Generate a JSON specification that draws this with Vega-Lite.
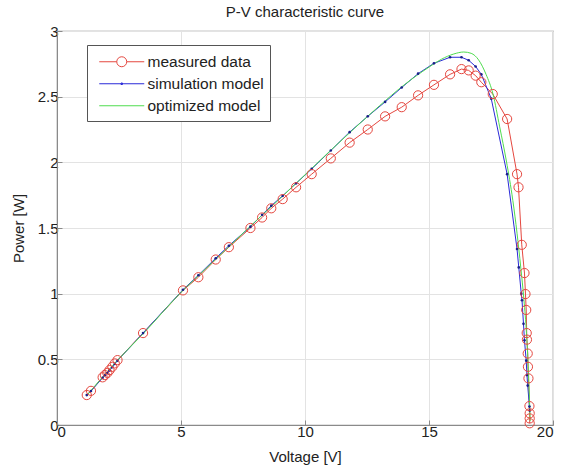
{
  "$schema": "https://vega.github.io/schema/vega-lite/v6.json",
  "autosize": {"type": "none"},
  "padding": {"left": 57, "top": 31, "right": 9, "bottom": 44},
  "width": 496,
  "height": 394,
  "title": {"text": "P-V characteristic curve", "fontSize": 15, "fontWeight": "normal", "font": "Liberation Sans", "color": "#222", "offset": 4},
  "config": {
    "view": {"stroke": "#8a8a8a", "strokeWidth": 1.2},
    "axis": {"labelFont": "Liberation Sans", "titleFont": "Liberation Sans", "labelFontSize": 15, "titleFontSize": 15, "titleFontWeight": "normal", "labelColor": "#222", "titleColor": "#222", "gridColor": "#e3e3e3", "domainColor": "#8a8a8a", "tickColor": "#8a8a8a", "tickSize": -5, "labelPadding": 4},
    "legend": {"labelFont": "Liberation Sans", "labelFontSize": 15.5, "labelColor": "#222"}
  },
  "datasets": {
    "measured": [
      {"V": 1.2, "P": 0.228}, {"V": 1.37, "P": 0.26}, {"V": 1.84, "P": 0.363}, {"V": 1.93, "P": 0.38},
      {"V": 2.03, "P": 0.397}, {"V": 2.12, "P": 0.418}, {"V": 2.23, "P": 0.443}, {"V": 2.33, "P": 0.469},
      {"V": 2.44, "P": 0.494}, {"V": 3.47, "P": 0.7}, {"V": 5.08, "P": 1.025}, {"V": 5.7, "P": 1.125},
      {"V": 6.4, "P": 1.26}, {"V": 6.93, "P": 1.354}, {"V": 7.8, "P": 1.5}, {"V": 8.27, "P": 1.58},
      {"V": 8.64, "P": 1.65}, {"V": 9.1, "P": 1.72}, {"V": 9.64, "P": 1.81}, {"V": 10.27, "P": 1.91},
      {"V": 11.04, "P": 2.03}, {"V": 11.8, "P": 2.15}, {"V": 12.53, "P": 2.25}, {"V": 13.23, "P": 2.35},
      {"V": 13.9, "P": 2.42}, {"V": 14.56, "P": 2.51}, {"V": 15.2, "P": 2.59}, {"V": 15.85, "P": 2.67},
      {"V": 16.31, "P": 2.71}, {"V": 16.6, "P": 2.7}, {"V": 16.88, "P": 2.66}, {"V": 17.11, "P": 2.61},
      {"V": 17.57, "P": 2.52}, {"V": 18.15, "P": 2.33}, {"V": 18.55, "P": 1.91}, {"V": 18.61, "P": 1.81},
      {"V": 18.74, "P": 1.372}, {"V": 18.85, "P": 1.157}, {"V": 18.89, "P": 0.997}, {"V": 18.92, "P": 0.876},
      {"V": 18.94, "P": 0.7}, {"V": 18.95, "P": 0.65}, {"V": 18.98, "P": 0.544}, {"V": 18.99, "P": 0.443},
      {"V": 19.01, "P": 0.355}, {"V": 19.05, "P": 0.144}, {"V": 19.06, "P": 0.089}, {"V": 19.06, "P": 0.05},
      {"V": 19.06, "P": 0.013}
    ],
    "simulation": [
      {"V": 1.2, "P": 0.228}, {"V": 1.37, "P": 0.258}, {"V": 1.84, "P": 0.36}, {"V": 1.93, "P": 0.378},
      {"V": 2.03, "P": 0.396}, {"V": 2.12, "P": 0.415}, {"V": 2.23, "P": 0.44}, {"V": 2.33, "P": 0.465},
      {"V": 2.44, "P": 0.49}, {"V": 3.47, "P": 0.7}, {"V": 5.08, "P": 1.03}, {"V": 5.7, "P": 1.14},
      {"V": 6.4, "P": 1.27}, {"V": 6.93, "P": 1.365}, {"V": 7.8, "P": 1.51}, {"V": 8.27, "P": 1.6},
      {"V": 8.64, "P": 1.67}, {"V": 9.1, "P": 1.745}, {"V": 9.64, "P": 1.84}, {"V": 10.27, "P": 1.95},
      {"V": 11.04, "P": 2.09}, {"V": 11.8, "P": 2.23}, {"V": 12.53, "P": 2.35}, {"V": 13.23, "P": 2.46},
      {"V": 13.9, "P": 2.57}, {"V": 14.56, "P": 2.675}, {"V": 15.2, "P": 2.754}, {"V": 15.85, "P": 2.8},
      {"V": 16.31, "P": 2.8}, {"V": 16.6, "P": 2.777}, {"V": 16.88, "P": 2.73}, {"V": 17.11, "P": 2.67},
      {"V": 17.51, "P": 2.485}, {"V": 18.15, "P": 1.91}, {"V": 18.55, "P": 1.34}, {"V": 18.62, "P": 1.2},
      {"V": 18.72, "P": 1.0}, {"V": 18.75, "P": 0.95}, {"V": 18.81, "P": 0.77}, {"V": 18.85, "P": 0.645},
      {"V": 18.92, "P": 0.49}, {"V": 18.95, "P": 0.38}, {"V": 18.98, "P": 0.3}, {"V": 19.05, "P": 0.14},
      {"V": 19.06, "P": 0.11}
    ],
    "optimized": [
      {"V": 1.2, "P": 0.225}, {"V": 2.4, "P": 0.485}, {"V": 3.5, "P": 0.7}, {"V": 5.0, "P": 1.01},
      {"V": 6.0, "P": 1.19}, {"V": 7.0, "P": 1.37}, {"V": 8.0, "P": 1.55}, {"V": 9.0, "P": 1.725},
      {"V": 10.0, "P": 1.905}, {"V": 11.0, "P": 2.085}, {"V": 12.0, "P": 2.26}, {"V": 13.0, "P": 2.43},
      {"V": 14.0, "P": 2.59}, {"V": 15.0, "P": 2.725}, {"V": 15.5, "P": 2.785}, {"V": 16.0, "P": 2.825},
      {"V": 16.4, "P": 2.84}, {"V": 16.7, "P": 2.83}, {"V": 17.0, "P": 2.78}, {"V": 17.3, "P": 2.67},
      {"V": 17.58, "P": 2.52}, {"V": 17.85, "P": 2.27}, {"V": 18.12, "P": 2.01}, {"V": 18.38, "P": 1.71},
      {"V": 18.55, "P": 1.46}, {"V": 18.7, "P": 1.2}, {"V": 18.83, "P": 0.95}, {"V": 18.93, "P": 0.7},
      {"V": 19.0, "P": 0.45}, {"V": 19.05, "P": 0.2}, {"V": 19.08, "P": 0.03}
    ]
  },
  "layer": [
    {
      "data": {"name": "measured"},
      "transform": [{"window": [{"op": "row_number", "as": "i"}]}, {"calculate": "'measured data'", "as": "series"}],
      "mark": {"type": "line", "strokeWidth": 1, "clip": true},
      "encoding": {
        "x": {"field": "V", "type": "quantitative", "scale": {"domain": [0, 20]}, "axis": {"title": "Voltage [V]", "values": [0, 5, 10, 15, 20], "titlePadding": 10}},
        "y": {"field": "P", "type": "quantitative", "scale": {"domain": [0, 3]}, "axis": {"title": "Power [W]", "values": [0, 0.5, 1, 1.5, 2, 2.5, 3], "format": "~g", "titlePadding": 11}},
        "order": {"field": "i", "type": "quantitative"},
        "color": {
          "field": "series", "type": "nominal",
          "scale": {"domain": ["measured data", "simulation model", "optimized model"], "range": ["#e5473f", "#2a2ad8", "#4fdc4f"]},
          "legend": {
            "title": null, "orient": "none", "legendX": 30, "legendY": 14,
            "strokeColor": "#555", "fillColor": "white", "padding": 6,
            "symbolSize": 100, "symbolStrokeWidth": 1, "rowPadding": 2, "symbolOffset": 21, "labelOffset": 18,
            "encode": {
              "labels": {"update": {"dy": {"value": 3}}},
              "symbols": {"update": {
                "fill": {"value": "transparent"},
                "shape": {"signal": "datum.label === 'measured data' ? 'M-4.5,0.6H-1L-0.924,0.983L-0.707,1.307L-0.383,1.524L0,1.6L0.383,1.524L0.707,1.307L0.924,0.983L1,0.6L0.924,0.217L0.707,-0.107L0.383,-0.324L0,-0.4L-0.383,-0.324L-0.707,-0.107L-0.924,0.217L-1,0.6M1,0.6H4.5' : datum.label === 'simulation model' ? 'M-4.5,0.6H4.5M-0.15,0.45H0.15V0.75H-0.15Z' : 'M-4.5,0.6H4.5'"}
              }}
            }
          }
        }
      }
    },
    {
      "data": {"name": "simulation"},
      "transform": [{"window": [{"op": "row_number", "as": "i"}]}, {"calculate": "'simulation model'", "as": "series"}],
      "mark": {"type": "line", "strokeWidth": 1, "clip": true},
      "encoding": {
        "x": {"field": "V", "type": "quantitative"},
        "y": {"field": "P", "type": "quantitative"},
        "order": {"field": "i", "type": "quantitative"},
        "color": {"field": "series", "type": "nominal"}
      }
    },
    {
      "data": {"name": "optimized"},
      "transform": [{"window": [{"op": "row_number", "as": "i"}]}, {"calculate": "'optimized model'", "as": "series"}],
      "mark": {"type": "line", "strokeWidth": 1, "interpolate": "monotone", "clip": true},
      "encoding": {
        "x": {"field": "V", "type": "quantitative"},
        "y": {"field": "P", "type": "quantitative"},
        "order": {"field": "i", "type": "quantitative"},
        "color": {"field": "series", "type": "nominal"}
      }
    },
    {
      "data": {"name": "simulation"},
      "mark": {"type": "point", "filled": true, "shape": "circle", "size": 7, "color": "#1a1f8a", "opacity": 1},
      "encoding": {
        "x": {"field": "V", "type": "quantitative"},
        "y": {"field": "P", "type": "quantitative"}
      }
    },
    {
      "data": {"name": "measured"},
      "mark": {"type": "point", "filled": false, "shape": "circle", "size": 85, "color": "#e5473f", "strokeWidth": 1, "opacity": 1},
      "encoding": {
        "x": {"field": "V", "type": "quantitative"},
        "y": {"field": "P", "type": "quantitative"}
      }
    }
  ]
}
